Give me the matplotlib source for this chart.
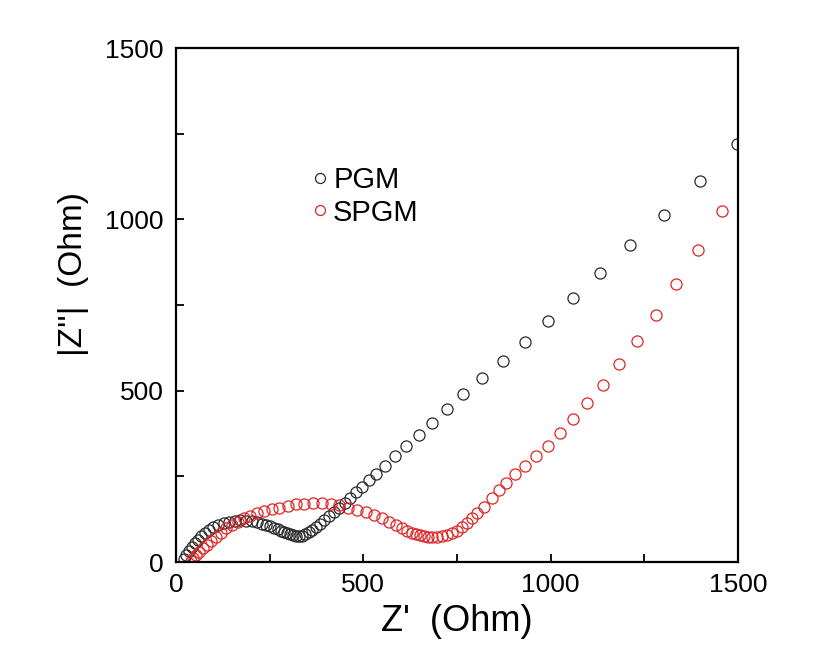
import matplotlib
matplotlib.use("Agg")
import matplotlib.pyplot as plt
from matplotlib.ticker import MultipleLocator

plt.rcParams['font.family'] = ['Liberation Sans', 'DejaVu Sans']

pgm_x = [22, 28, 35, 42, 50, 58, 67, 77, 88, 100, 113, 127, 142, 157, 172, 187, 202, 216,
         229, 241, 252, 262, 272, 281, 289, 297, 305, 313, 321, 329, 337, 345, 354, 363,
         373, 384, 396, 409, 422, 436, 450, 465, 480, 497, 515, 535, 558, 585, 615, 649,
         683, 722, 765, 816, 874, 931, 993, 1060, 1132, 1213, 1302, 1398, 1497]
pgm_y = [8, 20, 32, 44, 55, 65, 75, 84, 93, 101, 108, 114, 118, 121, 122, 121, 119, 116,
         112, 108, 104, 100, 95, 91, 87, 84, 81, 78, 76, 75, 77, 81, 87, 94,
         102, 112, 123, 135, 146, 158, 172, 188, 203, 220, 238, 258, 281, 308, 338, 371,
         406, 446, 490, 536, 586, 642, 703, 770, 844, 924, 1013, 1111, 1219]

spgm_x = [40, 45, 53, 62, 71, 83, 93, 107, 120, 133, 149, 165, 181, 197, 216, 236, 255,
          276, 298, 320, 342, 366, 389, 413, 436, 460, 484, 506, 528, 551, 568, 586,
          604, 617, 629, 640, 650, 662, 673, 684, 697, 711, 724, 737, 751, 764, 777,
          791, 804, 822, 844, 861, 882, 905, 931, 962, 993, 1026, 1060, 1098, 1140,
          1182, 1230, 1280, 1334, 1393, 1457]
spgm_y = [4, 11, 20, 30, 40, 49, 61, 74, 86, 98, 108, 117, 127, 135, 142, 148, 154,
          159, 164, 168, 170, 171, 171, 169, 166, 159, 152, 145, 137, 127, 117, 108,
          98, 91, 85, 81, 79, 76, 74, 74, 74, 76, 79, 84, 91, 101, 113,
          127, 143, 161, 188, 209, 232, 256, 280, 308, 338, 376, 418, 464, 517,
          578, 644, 721, 810, 911, 1025]

W, H = 814, 664
L, R, T, B = 176, 738, 48, 562
fig = plt.figure(figsize=(W/100, H/100), dpi=100)
ax = fig.add_axes([L/W, 1 - B/H, (R-L)/W, (B-T)/H])

ax.plot(pgm_x, pgm_y, linestyle='none', marker='o', markersize=8, mfc='none',
        mec='#2a2a2a', mew=0.9, label='PGM')
ax.plot(spgm_x, spgm_y, linestyle='none', marker='o', markersize=8, mfc='none',
        mec='#e02424', mew=0.9, label='SPGM')

ax.set_xlim(0, 1500)
ax.set_ylim(0, 1500)
ax.xaxis.set_major_locator(MultipleLocator(500))
ax.xaxis.set_minor_locator(MultipleLocator(250))
ax.yaxis.set_major_locator(MultipleLocator(500))
ax.yaxis.set_minor_locator(MultipleLocator(250))
ax.tick_params(which='both', direction='in', top=False, right=False, width=1.3,
               length=6, labelsize=19)
ax.tick_params(axis='x', pad=8)
ax.tick_params(axis='y', pad=9)
for s in ax.spines.values():
    s.set_linewidth(1.6)

ax.set_xlabel("Z'  (Ohm)", fontsize=26, labelpad=5)
ax.set_ylabel("|Z''|  (Ohm)", fontsize=24, labelpad=6)
ax.yaxis.set_label_coords(-0.155, 0.56)

fs = 21
hl = 0.5
ax.legend(loc='center left',
          bbox_to_anchor=((320 - hl*fs*100/72/2 - L) / (R - L), (B - 196.5) / (B - T)),
          frameon=False, fontsize=fs, handlelength=hl, handletextpad=0.2,
          labelspacing=0.15, borderpad=0, borderaxespad=0, markerscale=0.9)

fig.savefig('out.png', dpi=100)
